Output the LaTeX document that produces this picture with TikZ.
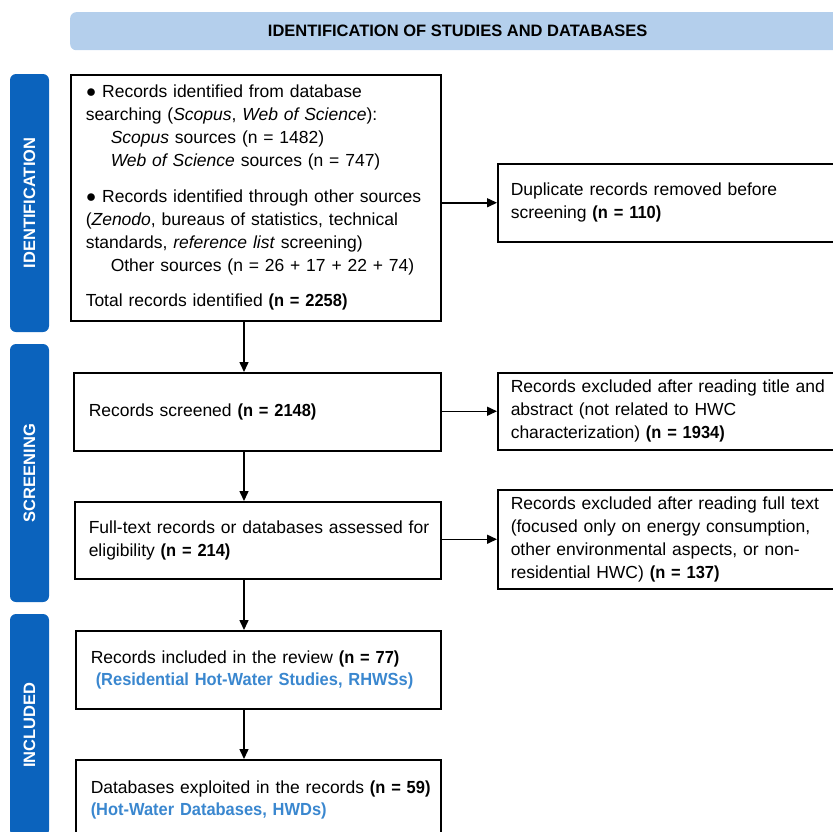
\documentclass[tikz,border=0pt]{standalone}
\usepackage{fontspec}
\setmainfont{Liberation Sans}[BoldFeatures={FakeStretch=0.94}]
\newfontfamily\labelfont{Liberation Sans}
\usetikzlibrary{positioning,arrows.meta,calc}
\definecolor{headblue}{RGB}{180,207,236}
\definecolor{bandblue}{RGB}{11,99,189}
\definecolor{noteblue}{RGB}{58,135,207}
\tikzset{
  stagebox/.style={draw, line width=1.5pt, anchor=north west, align=left, inner ysep=0pt,
    font=\fontsize{17.5}{23}\selectfont},
  band/.style={fill=bandblue, rounded corners=6pt, text=white, inner sep=0pt,
    minimum width=39pt, font=\labelfont\fontsize{16.5}{18}\selectfont\bfseries},
  flow/.style={line width=1.5pt, -{Triangle[length=10pt,width=9pt]}},
}
\newcommand{\ind}{\hspace*{25pt}}
\newcommand{\note}[1]{\textcolor{noteblue}{\textbf{#1}}}
\newcommand{\boxlines}[1]{\begin{tabular}{@{}l@{}}#1\end{tabular}}

\begin{document}
\begin{tikzpicture}[x=1pt,y=-1pt]
  \useasboundingbox (0,0) rectangle (833,831);
  \clip (0,0) rectangle (833,831);
  \coordinate (spine) at (244,0);
  % header and stage bands
  \node[fill=headblue, rounded corners=6pt, anchor=north west, minimum width=775pt, minimum height=38pt,
    font=\labelfont\fontsize{16.5}{18}\selectfont\bfseries] (header) at (70,12) {IDENTIFICATION OF STUDIES AND DATABASES};
  \node[band, minimum height=258pt] (identband) at (29.5,203) {\rotatebox{90}{IDENTIFICATION}};
  \node[band, minimum height=258pt] (screenband) at (29.5,473) {\rotatebox{90}{SCREENING}};
  \node[band, minimum height=222pt] (inclband) at (29.5,725) {\rotatebox{90}{INCLUDED}};
  % main column
  \node[stagebox, text width=340pt, inner xsep=15pt, minimum height=246pt] (records) at (70,74)
    {\boxlines{● Records identified from database\\
     searching (\textit{Scopus}, \textit{Web of Science}):\\
     \ind\textit{Scopus} sources (n = 1482)\\
     \ind\textit{Web of Science} sources (n = 747)\\[13pt]
     ● Records identified through other sources\\
     (\textit{Zenodo}, bureaus of statistics, technical\\
     standards, \textit{reference list} screening)\\
     \ind Other sources (n = 26 + 17 + 22 + 74)\\[12pt]
     Total records identified \textbf{(n = 2258)}}};
  \node[stagebox, text width=337pt, inner xsep=15pt, minimum height=78pt] (screened) at (73,372)
    {\boxlines{Records screened \textbf{(n = 2148)}}};
  \node[stagebox, text width=338pt, inner xsep=14pt, minimum height=77pt] (fulltext) at (74,501)
    {\boxlines{Full-text records or databases assessed for\\
     eligibility \textbf{(n = 214)}}};
  \node[stagebox, text width=335pt, inner xsep=15pt, minimum height=78pt] (included) at (75,630)
    {\boxlines{Records included in the review \textbf{(n = 77)}\\[-1pt]
     \hspace*{5pt}\note{(Residential Hot-Water Studies, RHWSs)}}};
  \node[stagebox, text width=335pt, inner xsep=15pt, minimum height=80pt] (databases) at (75,759)
    {\boxlines{Databases exploited in the records \textbf{(n = 59)}\\[-1pt]
     \note{(Hot-Water Databases, HWDs)}}};
  % side column
  \node[stagebox, text width=322pt, inner xsep=13pt, minimum height=78pt] (duplicates) at (497,163)
    {\boxlines{Duplicate records removed before\\
     screening \textbf{(n = 110)}}};
  \node[stagebox, text width=322pt, inner xsep=13pt, minimum height=77pt] (excludedTA) at (497,372)
    {\boxlines{Records excluded after reading title and\\
     abstract (not related to HWC\\
     characterization) \textbf{(n = 1934)}}};
  \node[stagebox, text width=322pt, inner xsep=13pt, minimum height=99pt] (excludedFT) at (497,489)
    {\boxlines{Records excluded after reading full text\\
     (focused only on energy consumption,\\
     other environmental aspects, or non-\\
     residential HWC) \textbf{(n = 137)}}};
  % connectors
  \draw[flow] (spine |- records.south) -- (spine |- screened.north);
  \draw[flow] (spine |- screened.south) -- (spine |- fulltext.north);
  \draw[flow] (spine |- fulltext.south) -- (spine |- included.north);
  \draw[flow] (spine |- included.south) -- (spine |- databases.north);
  \draw[flow] (duplicates.west -| records.east) -- (duplicates.west);
  \draw[flow] (excludedTA.west -| screened.east) -- (excludedTA.west);
  \draw[flow] (excludedFT.west -| fulltext.east) -- (excludedFT.west);
\end{tikzpicture}
\end{document}
